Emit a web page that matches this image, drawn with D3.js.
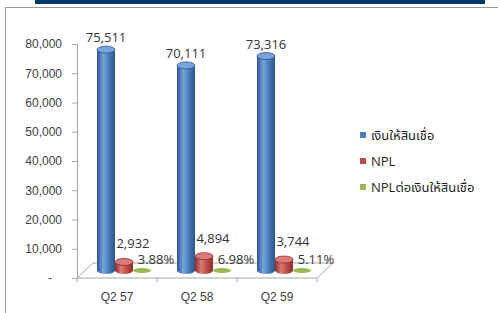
<!DOCTYPE html>
<html>
<head>
<meta charset="utf-8">
<script src="https://cdnjs.cloudflare.com/ajax/libs/d3/7.8.5/d3.min.js"></script>
<style>
  body { margin: 0; background: #fff; }
  svg { display: block; font-family: "Open Sans", "Noto Sans Thai", "Noto Sans", "DejaVu Sans", sans-serif; }
</style>
</head>
<body>
<div id="chart"></div>
<script>
(function () {
    "use strict";

    var categories = ["Q2 57", "Q2 58", "Q2 59"];
    var seriesNames = ["เงินให้สินเชื่อ", "NPL", "NPLต่อเงินให้สินเชื่อ"];
    var loans = [75511, 70111, 73316];
    var npl = [2932, 4894, 3744];
    var nplRatio = [3.88, 6.98, 5.11];
    var yTicks = [0, 10000, 20000, 30000, 40000, 50000, 60000, 70000, 80000];

    var width = 498;
    var height = 313;
    var colors = ["#4a7ebb", "#be4b48", "#98b954"];
    var dark = ["#2b568c", "#8c2f2d", "#6b8a33"];
    var light = ["#7aa3dc", "#dc7a77", "#bcd68a"];

    // 3D depth offset of the floor
    var depth = { dx: 16, dy: -15 };

    var svg = d3.select("#chart")
        .append("svg")
        .attr("width", width)
        .attr("height", height);

    // Frame and header strip
    svg.append("rect")
        .attr("x", 35).attr("y", 0)
        .attr("width", 450).attr("height", 4)
        .attr("fill", "#00386c");
    svg.append("rect")
        .attr("x", 5.5).attr("y", 7.5)
        .attr("width", 500).attr("height", 320)
        .attr("fill", "none")
        .attr("stroke", "#9a9a9a");

    var x0 = d3.scaleBand().domain(categories).range([77, 317]);
    var x1 = d3.scaleBand().domain(d3.range(3)).range([12, 66]);
    var y = d3.scaleLinear().domain([0, 80000]).range([278, 44]);

    // Gradients for cylinders
    var defs = svg.append("defs");
    colors.forEach(function (c, i) {
        var g = defs.append("linearGradient")
            .attr("id", "cyl" + i)
            .attr("x1", "0%").attr("x2", "100%");
        g.append("stop").attr("offset", "0%").attr("stop-color", dark[i]);
        g.append("stop").attr("offset", "35%").attr("stop-color", light[i]);
        g.append("stop").attr("offset", "65%").attr("stop-color", c);
        g.append("stop").attr("offset", "100%").attr("stop-color", dark[i]);
    });

    // Floor
    var fx0 = x0.range()[0], fx1 = x0.range()[1], fy = y(0);
    svg.append("path")
        .attr("d", "M" + fx0 + "," + fy +
            "L" + (fx0 + depth.dx) + "," + (fy + depth.dy) +
            "L" + (fx1 + depth.dx) + "," + (fy + depth.dy) +
            "L" + fx1 + "," + fy + "Z")
        .attr("fill", "#fff")
        .attr("stroke", "#a6a6a6");

    // Y axis
    var yAxis = svg.append("g")
        .attr("transform", "translate(77,0)")
        .call(d3.axisLeft(y)
            .tickValues(yTicks)
            .tickSize(5)
            .tickPadding(10)
            .tickFormat(function (d) { return d === 0 ? "-" : d3.format(",")(d); }));
    yAxis.select(".domain").attr("stroke", "#a6a6a6");
    yAxis.selectAll(".tick line").attr("stroke", "#a6a6a6");
    yAxis.selectAll(".tick text")
        .attr("fill", "#404040")
        .style("font-size", "12px")
        .attr("dx", function (d) { return d === 0 ? -10 : 0; });

    // X axis
    var xAxis = svg.append("g")
        .attr("transform", "translate(0," + fy + ")")
        .call(d3.axisBottom(x0).tickSize(0).tickPadding(14));
    xAxis.select(".domain").remove();
    xAxis.selectAll(".tick text")
        .attr("fill", "#404040")
        .style("font-size", "12px");
    xAxis.selectAll(".cat-tick")
        .data(categories.concat([null]))
        .enter()
        .append("line")
        .attr("x1", function (d, i) { return fx0 + i * x0.bandwidth(); })
        .attr("x2", function (d, i) { return fx0 + i * x0.bandwidth(); })
        .attr("y1", 0).attr("y2", 4)
        .attr("stroke", "#a6a6a6");

    // Cylinders
    var bw = x1.bandwidth();
    var ry = 3.5;
    var baseY = y(0) + depth.dy / 2;
    var mid = depth.dx / 2;
    var barData = [];
    categories.forEach(function (c, ci) {
        barData.push({ s: 0, cat: c, value: loans[ci], label: d3.format(",")(loans[ci]) });
        barData.push({ s: 1, cat: c, value: npl[ci], label: d3.format(",")(npl[ci]) });
        barData.push({ s: 2, cat: c, value: 0, label: nplRatio[ci].toFixed(2) + "%" });
    });

    var bars = svg.append("g").selectAll("g")
        .data(barData)
        .enter()
        .append("g");

    bars.each(function (d) {
        var g = d3.select(this);
        var cx = x0(d.cat) + x1(d.s) + bw / 2 + mid;
        var top = baseY - (y(0) - y(d.value));
        var rx = bw / 2;
        if (d.value > 0) {
            g.append("path")
                .attr("d", "M" + (cx - rx) + "," + top +
                    "L" + (cx - rx) + "," + baseY +
                    "A" + rx + "," + ry + " 0 0 0 " + (cx + rx) + "," + baseY +
                    "L" + (cx + rx) + "," + top + "Z")
                .attr("fill", "url(#cyl" + d.s + ")");
            g.append("ellipse")
                .attr("cx", cx).attr("cy", top)
                .attr("rx", rx).attr("ry", ry)
                .attr("fill", light[d.s])
                .attr("stroke", dark[d.s])
                .attr("stroke-width", 0.8);
        } else {
            g.append("ellipse")
                .attr("cx", cx).attr("cy", baseY)
                .attr("rx", rx).attr("ry", 2.5)
                .attr("fill", colors[d.s]);
        }
    });

    // Data labels
    var labelShift = [{ dx: 0, dy: -12 }, { dx: 9, dy: -18 }, { dx: 14, dy: -11 }];
    svg.append("g").selectAll("text")
        .data(barData)
        .enter()
        .append("text")
        .attr("x", function (d) { return x0(d.cat) + x1(d.s) + bw / 2 + mid + labelShift[d.s].dx; })
        .attr("y", function (d) { return baseY - (y(0) - y(d.value)) + labelShift[d.s].dy; })
        .attr("text-anchor", "middle")
        .attr("dy", "0.35em")
        .attr("fill", "#333")
        .style("font-size", "13px")
        .text(function (d) { return d.label; });

    // Legend
    var legend = svg.append("g")
        .attr("transform", "translate(360,135)")
        .selectAll("g")
        .data(seriesNames)
        .enter()
        .append("g")
        .attr("transform", function (d, i) { return "translate(0," + (i * 26) + ")"; });
    legend.append("rect")
        .attr("x", 0).attr("y", -3)
        .attr("width", 6).attr("height", 6)
        .attr("fill", function (d, i) { return colors[i]; });
    legend.append("text")
        .attr("x", 11)
        .attr("dy", "0.35em")
        .attr("fill", "#1f1f1f")
        .style("font-size", "13px")
        .text(function (d) { return d; });
})();
</script>
</body>
</html>
